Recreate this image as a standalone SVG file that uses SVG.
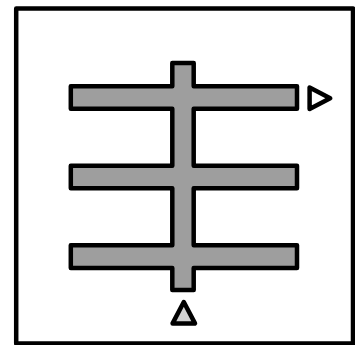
<svg xmlns="http://www.w3.org/2000/svg" width="355" height="345" viewBox="0 0 355 345">
<style>
.o{stroke:#000;stroke-width:4.5;stroke-linejoin:round}
</style>
<rect width="355" height="345" fill="#fff"/>
<g id="frame"><rect class="o" x="16.2" y="8.5" width="336.8" height="335" fill="#fff" stroke-linejoin="miter"/></g>
<g id="comb">
<path class="o" fill="#9e9e9e" d="M172.3,63 H193.7 V86.2 H297 V108.8 H193.7 V165.7 H297 V188.3 H193.7 V245.3 H297 V267.9 H193.7 V290 H172.3 V267.9 H70.8 V245.3 H172.3 V188.3 H70.8 V165.7 H172.3 V108.8 H70.8 V86.2 H172.3 Z"/>
</g>
<g id="port-right"><path class="o" fill="#fff" d="M309.6,87.5 L309.6,109 L330.2,98.2 Z"/></g>
<g id="port-bottom"><path class="o" fill="#d3d3d3" d="M183.8,302 L195,323.4 L172.6,323.4 Z"/></g>
</svg>
